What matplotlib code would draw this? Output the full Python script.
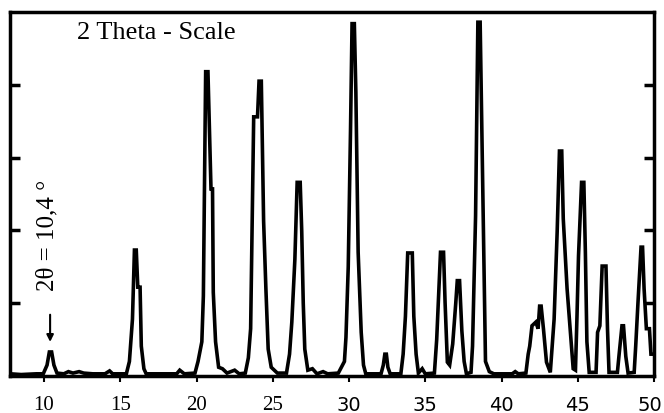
import matplotlib
matplotlib.use("Agg")
import matplotlib.pyplot as plt
import matplotlib.transforms as mtransforms

# trace (2theta in degrees, intensity in tick units)
two_theta = [7.8, 8.5, 9.5, 9.95, 10.2, 10.35, 10.5, 10.65, 10.85, 11.3, 11.6, 11.9, 12.3, 12.6,
             13.2, 14.0, 14.3, 14.5, 15.4, 15.6, 15.8, 15.93, 16.05, 16.15, 16.3, 16.38, 16.55,
             16.7, 17.5, 18.7, 18.9, 19.2, 19.9, 20.1, 20.35, 20.45, 20.6, 20.75, 20.95, 21.05,
             21.1, 21.25, 21.45, 21.7, 22.0, 22.5, 22.8, 23.2, 23.4, 23.55, 23.75, 24.0, 24.1,
             24.25, 24.4, 24.55, 24.7, 24.9, 25.3, 25.9, 26.1, 26.25, 26.45, 26.6, 26.8, 26.9,
             27.0, 27.1, 27.3, 27.6, 27.9, 28.3, 28.6, 29.3, 29.5, 29.7, 29.8, 29.95, 30.1, 30.2,
             30.35, 30.45, 30.6, 30.8, 30.95, 31.1, 32.1, 32.25, 32.35, 32.45, 32.55, 32.7, 33.4,
             33.55, 33.7, 33.85, 34.15, 34.25, 34.4, 34.55, 34.8, 35.0, 35.6, 35.75, 35.85, 36.0,
             36.2, 36.3, 36.45, 36.6, 36.8, 37.0, 37.1, 37.25, 37.4, 37.55, 37.7, 38.0, 38.1,
             38.3, 38.45, 38.6, 38.8, 38.95, 39.2, 39.5, 40.7, 40.9, 41.1, 41.6, 41.75, 41.85,
             42.0, 42.25, 42.4, 42.5, 42.6, 42.75, 42.95, 43.2, 43.45, 43.65, 43.8, 43.95, 44.05,
             44.3, 44.5, 44.7, 44.85, 44.95, 45.05, 45.25, 45.4, 45.5, 45.6, 45.75, 46.2, 46.3,
             46.45, 46.6, 46.85, 46.95, 47.05, 47.6, 47.7, 47.9, 48.0, 48.15, 48.3, 48.7, 48.8,
             48.95, 49.15, 49.25, 49.35, 49.5, 49.7, 49.8, 50.0]
intensity = [0.03, 0.02, 0.03, 0.03, 0.15, 0.33, 0.33, 0.15, 0.04, 0.03, 0.06, 0.04, 0.06, 0.04,
             0.03, 0.03, 0.07, 0.03, 0.03, 0.2, 0.78, 1.73, 1.73, 1.22, 1.22, 0.41, 0.1,
             0.03, 0.03, 0.03, 0.08, 0.03, 0.04, 0.2, 0.47, 1.1, 4.18, 4.18, 2.57, 2.57,
             1.15, 0.47, 0.12, 0.1, 0.04, 0.08, 0.03, 0.04, 0.25, 0.65, 3.56, 3.56, 4.05,
             4.05, 2.13, 1.2, 0.37, 0.12, 0.04, 0.04, 0.3, 0.74, 1.6, 2.66, 2.66, 1.99,
             1.0, 0.37, 0.08, 0.1, 0.03, 0.06, 0.03, 0.04, 0.12, 0.2, 0.53, 1.5, 3.39, 4.84,
             4.84, 3.9, 1.7, 0.6, 0.15, 0.03, 0.03, 0.15, 0.3, 0.3, 0.12, 0.03, 0.03,
             0.3, 0.82, 1.69, 1.69, 0.82, 0.3, 0.04, 0.1, 0.03, 0.04, 0.5, 0.99, 1.7,
             1.7, 1.01, 0.19, 0.15, 0.44, 1.0, 1.31, 1.31, 0.62, 0.2, 0.03, 0.05, 0.41,
             2.2, 4.86, 4.86, 2.2, 0.2, 0.06, 0.03, 0.03, 0.06, 0.03, 0.04, 0.3, 0.41,
             0.69, 0.74, 0.65, 0.96, 0.96, 0.65, 0.19, 0.05, 0.78, 1.98, 3.09, 3.09, 2.16,
             1.2, 0.65, 0.1, 0.08, 0.82, 1.65, 2.66, 2.66, 1.7, 0.47, 0.05, 0.05, 0.6,
             0.69, 1.51, 1.51, 0.65, 0.05, 0.05, 0.27, 0.69, 0.69, 0.27, 0.04, 0.05, 0.41,
             1.01, 1.77, 1.77, 1.2, 0.65, 0.65, 0.3, 0.3]

x_ticks = [10, 15, 20, 25, 30, 35, 40, 45, 50]
y_ticks = [1, 2, 3, 4]
marker_angle = 10.4
marker_label = "2θ = 10,4 °"
title_text = "2 Theta - Scale"

fig = plt.figure(figsize=(6.64, 4.14), dpi=100)
ax = fig.add_axes([10 / 664, 1 - 377 / 414, 644 / 664, 364 / 414])

ax.plot(two_theta, intensity, color="black", lw=2.6, solid_joinstyle="miter")

ax.set_xlim(7.77, 50)
ax.set_ylim(0, 5)

for s in ax.spines.values():
    s.set_linewidth(2.5)

ax.set_xticks(x_ticks)
ax.set_yticks(y_ticks)
ax.set_yticklabels([])
ax.tick_params(axis="x", direction="out", length=4, width=1.5, pad=10, labelsize=15)
ax.tick_params(axis="y", direction="in", length=7, width=2.5, left=True, right=True)

# the scan mixes a serif and a sans face on the x axis
for lab, v in zip(ax.get_xticklabels(), x_ticks):
    lab.set_family("Liberation Serif" if v < 30 else "DejaVu Sans")
    if v >= 30:
        lab.set_fontsize(14)
    if v == 50:
        # keep the last label inside the canvas
        lab.set_transform(lab.get_transform() +
                          mtransforms.ScaledTranslation(-3 / 72, 0, fig.dpi_scale_trans))

ax.text(0.104, 0.945, title_text, transform=ax.transAxes, ha="left", va="center",
        fontsize=19, family="Liberation Serif")
ax.text(marker_angle - 0.15, 1.95, marker_label, rotation=90, ha="center", va="center",
        fontsize=18, family="Liberation Serif")
ax.annotate("", xy=(marker_angle, 0.43), xytext=(marker_angle, 0.88),
            arrowprops=dict(arrowstyle="-|>", color="black", lw=1.5, mutation_scale=10))

fig.savefig("out.png", dpi=100)
